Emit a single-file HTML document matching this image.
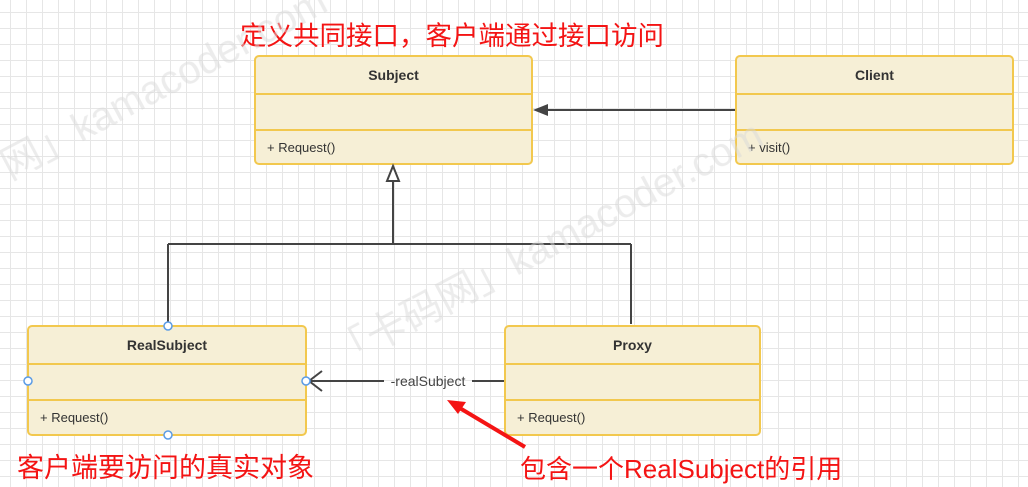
<!DOCTYPE html>
<html><head><meta charset="utf-8"><style>
body{margin:0;width:1028px;height:487px;overflow:hidden;font-family:"Liberation Sans","Noto Sans CJK SC",sans-serif;
background-color:#fff;background-image:linear-gradient(#e6e6e6 1px,transparent 1px),linear-gradient(90deg,#e6e6e6 1px,transparent 1px);background-size:16px 16px;background-position:-6px -4px;position:relative}
.box{position:absolute;background:#f6efd6;border:2px solid #f2c84e;border-radius:5px;box-sizing:border-box}
.h{height:36px;border-bottom:2px solid #f2c84e;text-align:center;line-height:36px;font-weight:bold;font-size:14px;color:#333}
.m{height:34px;border-bottom:2px solid #f2c84e}
.b{line-height:34px;font-size:13px;color:#333;padding-left:11px}
.red{position:absolute;color:#f41414;font-size:26px;white-space:nowrap}
svg{position:absolute;left:0;top:0}
</style></head><body>
<div class="red" style="left:240px;top:14px;font-size:26.5px">定义共同接口，客户端通过接口访问</div>
<div class="box" style="left:254px;top:55px;width:279px;height:110px"><div class="h">Subject</div><div class="m"></div><div class="b">+ Request()</div></div>
<div class="box" style="left:735px;top:55px;width:279px;height:110px"><div class="h">Client</div><div class="m"></div><div class="b">+ visit()</div></div>
<div class="box" style="left:27px;top:325px;width:280px;height:111px"><div class="h">RealSubject</div><div class="m"></div><div class="b">+ Request()</div></div>
<div class="box" style="left:504px;top:325px;width:257px;height:111px"><div class="h">Proxy</div><div class="m"></div><div class="b">+ Request()</div></div>
<svg width="1028" height="487">
<g stroke="#444" stroke-width="2" fill="none">
<path d="M393 181V244M168 244H631M168 244V324M631 244V324"/>
<path d="M735 110H545"/>
<path d="M504 381H472M384 381H310"/>
<path d="M322 371L309 381L322 391"/>
</g>
<path d="M393 166L387 181H399Z" fill="#fff" stroke="#444" stroke-width="2"/>
<path d="M533 110L548 104V116Z" fill="#444"/>
<text x="428" y="386" font-size="14" fill="#444" text-anchor="middle" font-family="Liberation Sans">-realSubject</text>
<g fill="#fff" stroke="#5a9be6" stroke-width="1.5">
<circle cx="168" cy="326" r="4"/><circle cx="28" cy="381" r="4"/><circle cx="306" cy="381" r="4"/><circle cx="168" cy="435" r="4"/>
</g>
<path d="M525 447L458 407" stroke="#f41414" stroke-width="4"/>
<path d="M447 400L466 402L458 414Z" fill="#f41414"/>
<g fill="#d8d8d8" opacity="0.5" font-size="40" font-family="Liberation Sans">
<text transform="translate(10,180) rotate(-28)">网」kamacoder.com</text>
<text transform="translate(340,370) rotate(-28)">「卡码网」kamacoder.com</text>
</g>
</svg>
<div class="red" style="left:17px;top:446px;font-size:27px">客户端要访问的真实对象</div>
<div class="red" style="left:520px;top:449px">包含一个RealSubject的引用</div>
</body></html>
